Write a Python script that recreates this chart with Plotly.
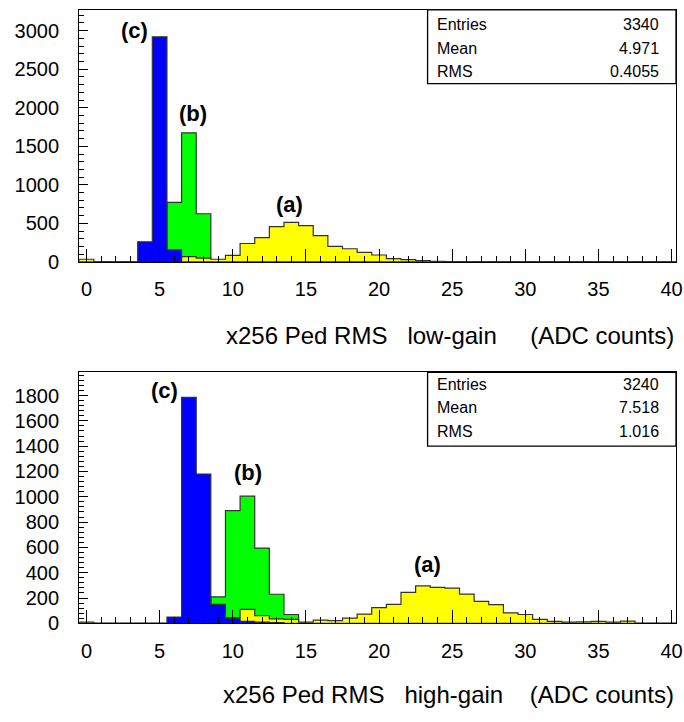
import plotly.graph_objects as go

W, H = 684, 722

# bin centres 0..40 (width 1)
bins = list(range(0, 41))

# ---- top panel (low-gain) ----
yellow_top = [35, 0, 0, 0, 0, 5, 30, 70, 50, 35, 85, 239, 316, 458, 513, 470, 342, 201, 171, 124,
              90, 43, 30, 17, 9, 4, 2, 1, 1, 0, 0, 0, 0, 0, 0, 0, 0, 0, 0, 0, 0]
green_top = [0, 0, 0, 0, 0, 0, 773, 1675, 625, 20, 0, 0, 0, 0, 0, 0, 0, 0, 0, 0,
             0, 0, 0, 0, 0, 0, 0, 0, 0, 0, 0, 0, 0, 0, 0, 0, 0, 0, 0, 0, 0]
blue_top = [0, 0, 0, 0, 262, 2920, 158, 0, 0, 0, 0, 0, 0, 0, 0, 0, 0, 0, 0, 0,
            0, 0, 0, 0, 0, 0, 0, 0, 0, 0, 0, 0, 0, 0, 0, 0, 0, 0, 0, 0, 0]

# ---- bottom panel (high-gain) ----
yellow_bot = [10, 0, 0, 0, 0, 0, 0, 0, 0, 5, 45, 110, 60, 36, 31, 10, 26, 21, 41, 73,
              125, 150, 244, 296, 285, 278, 231, 174, 148, 83, 70, 31, 15, 10, 12, 15, 10, 18, 0, 0, 0]
green_bot = [0, 0, 0, 0, 0, 0, 0, 0, 0, 210, 891, 1005, 595, 230, 70, 5, 0, 0, 0, 0,
             0, 0, 0, 0, 0, 0, 0, 0, 0, 0, 0, 0, 0, 0, 0, 0, 0, 0, 0, 0, 0]
blue_bot = [0, 0, 0, 0, 0, 0, 50, 1785, 1180, 150, 40, 15, 10, 5, 0, 0, 0, 0, 0, 0,
            0, 0, 0, 0, 0, 0, 0, 0, 0, 0, 0, 0, 0, 0, 0, 0, 0, 0, 0, 0, 0]

stat_names = ["Entries", "Mean", "RMS"]
stats_top = ["3340", "4.971", "0.4055"]
stats_bot = ["3240", "7.518", "1.016"]

title_top = "x256 Ped RMS   low-gain     (ADC counts)"
title_bot = "x256 Ped RMS   high-gain    (ADC counts)"

labels = ["(a)", "(b)", "(c)"]
lab_top_x = [13.85, 7.25, 3.3]
lab_top_y = [745, 1925, 3000]
lab_bot_x = [23.3, 11.05, 5.3]
lab_bot_y = [465, 1195, 1840]

YELLOW, GREEN, BLUE = "#ffff00", "#00ff00", "#0000ff"
FONT = "Liberation Sans, Arial, Helvetica, sans-serif"


def step(vals):
    xs, ys = [bins[0] - 0.5], [0]
    for c, v in zip(bins, vals):
        xs.append(c - 0.5)
        ys.append(v)
    xs.append(bins[-1] + 0.5)
    ys.append(vals[-1])
    xs.append(bins[-1] + 0.5)
    ys.append(0)
    return xs, ys


def px2x(px):
    return px / W


def px2y(py):
    return 1 - py / H


fig = go.Figure()
for (xa, ya), series in [(("x", "y"), [(green_top, GREEN), (yellow_top, YELLOW), (blue_top, BLUE)]),
                         (("x2", "y2"), [(green_bot, GREEN), (yellow_bot, YELLOW), (blue_bot, BLUE)])]:
    for vals, col in series:
        xs, ys = step(vals)
        fig.add_trace(go.Scatter(x=xs, y=ys, mode="lines", line=dict(color="#333333", width=1.2, shape="hv"),
                                 fill="tozeroy", fillcolor=col, xaxis=xa, yaxis=ya,
                                 showlegend=False, hoverinfo="skip"))

xdom = [px2x(80), px2x(683)]
top_dom = [px2y(266), px2y(10)]
bot_dom = [px2y(633), px2y(378)]

xcommon = dict(range=[-0.5, 40.3], tickmode="linear", tick0=0, dtick=5, ticks="inside", ticklen=13,
               tickwidth=1, tickcolor="black", showline=True, linecolor="black", linewidth=1.3,
               mirror=True, showgrid=False, zeroline=False, ticklabeloverflow="allow",
               tickfont=dict(family=FONT, size=20, color="black"), ticklabelstandoff=9,
               minor=dict(ticks="inside", dtick=1, ticklen=6, tickcolor="black", showgrid=False))
ycommon = dict(ticks="inside", ticklen=9, tickwidth=1, tickcolor="black", showline=True, linecolor="black",
               linewidth=1.3, mirror=True, showgrid=False, zeroline=False,
               tickfont=dict(family=FONT, size=20, color="black"), ticklabelstandoff=15)

fig.update_layout(
    width=W, height=H, margin=dict(l=0, r=0, t=0, b=0),
    paper_bgcolor="white", plot_bgcolor="white",
    xaxis=dict(domain=xdom, anchor="y", **xcommon),
    yaxis=dict(domain=top_dom, anchor="x", range=[0, 3270], tickmode="linear", tick0=0, dtick=500,
               minor=dict(ticks="inside", dtick=100, ticklen=5, tickcolor="black", showgrid=False), **ycommon),
    xaxis2=dict(domain=xdom, anchor="y2", **xcommon),
    yaxis2=dict(domain=bot_dom, anchor="x2", range=[0, 1984], tickmode="linear", tick0=0, dtick=200,
                minor=dict(ticks="inside", dtick=40, ticklen=5, tickcolor="black", showgrid=False), **ycommon),
)

ann = []
shapes = []
for lx, ly, xr, yr in [(lab_top_x, lab_top_y, "x", "y"), (lab_bot_x, lab_bot_y, "x2", "y2")]:
    for t, x, y in zip(labels, lx, ly):
        ann.append(dict(text="<b>%s</b>" % t, x=x, y=y, xref=xr, yref=yr, showarrow=False,
                        font=dict(family=FONT, size=22, color="black")))

for title, py in [(title_top, 341), (title_bot, 705)]:
    ann.append(dict(text=title.replace(" ", "&nbsp;"), x=px2x(683), y=px2y(py), xref="paper", yref="paper",
                    xanchor="right", yanchor="middle", showarrow=False,
                    font=dict(family=FONT, size=24, color="black")))

for vals, top, rows in [(stats_top, 10, [25, 49, 73]), (stats_bot, 378, [390, 414, 438])]:
    shapes.append(dict(type="rect", xref="paper", yref="paper", x0=px2x(432), x1=px2x(683),
                       y0=px2y(top + 75), y1=px2y(top), line=dict(color="black", width=1.3),
                       fillcolor="white"))
    for n, v, ry in zip(stat_names, vals, rows):
        yy = px2y(ry)
        ann.append(dict(text=n, x=px2x(440), y=yy, xref="paper", yref="paper", xanchor="left",
                        yanchor="middle", showarrow=False, font=dict(family=FONT, size=16, color="black")))
        ann.append(dict(text=v, x=px2x(668), y=yy, xref="paper", yref="paper", xanchor="right",
                        yanchor="middle", showarrow=False, font=dict(family=FONT, size=16, color="black")))

fig.update_layout(annotations=ann, shapes=shapes)
fig.write_html("out.html")
